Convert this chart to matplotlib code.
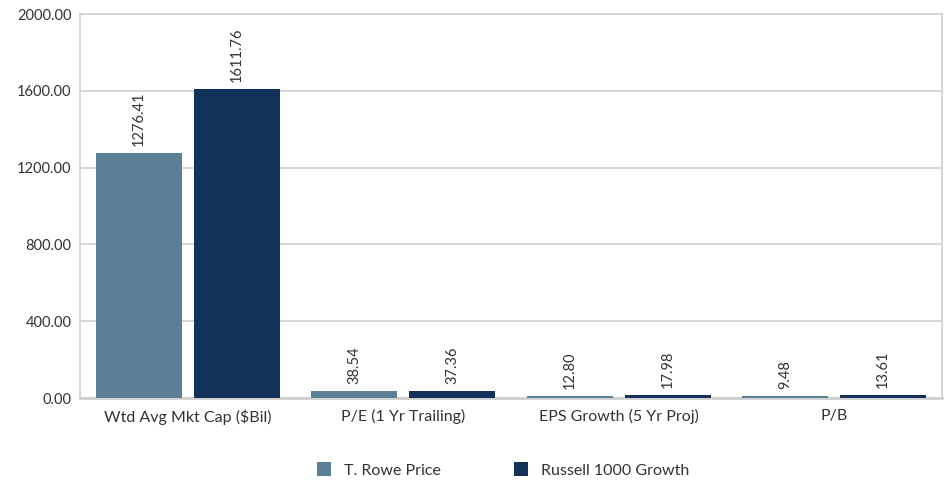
import numpy as np
import matplotlib.pyplot as plt

# --- Data --- #
categories = ['Wtd Avg Mkt Cap ($Bil)', 'P/E (1 Yr Trailing)', 'EPS Growth (5 Yr Proj)', 'P/B']
trowe = [1276.41, 38.54, 12.80, 9.48]
russell = [1611.76, 37.36, 17.98, 13.61]
series_names = ['T. Rowe Price', 'Russell 1000 Growth']
colors = ['#5B7F95', '#13325A']
yticks = [0, 400, 800, 1200, 1600, 2000]

plt.rcParams['font.family'] = ['Lato', 'DejaVu Sans']

fig = plt.figure(figsize=(9.49, 4.83), dpi=100)
ax = fig.add_axes([80 / 949, 1 - 398 / 483, (942 - 80) / 949, (398 - 14) / 483])

x = np.arange(len(categories))
w = 0.4
off = 0.227
b1 = ax.bar(x - off, trowe, w, color=colors[0], label=series_names[0], zorder=3)
b2 = ax.bar(x + off, russell, w, color=colors[1], label=series_names[1], zorder=3)

for bars in (b1, b2):
    for b in bars:
        ax.annotate(f'{b.get_height():.2f}', (b.get_x() + b.get_width() / 2, b.get_height()),
                    xytext=(0, 5), textcoords='offset points', rotation=90,
                    ha='center', va='bottom', fontsize=10.5, color='#333333')

ax.set_xlim(-0.5, 3.5)
ax.set_ylim(0, 2000)
ax.set_yticks(yticks)
ax.set_yticklabels([f'{v:.2f}' for v in yticks])
ax.set_xticks(x)
ax.set_xticklabels(categories)
ax.tick_params(axis='both', length=0, labelsize=10.5, colors='#333333')
ax.tick_params(axis='x', pad=8, labelsize=11.5)
ax.tick_params(axis='y', pad=6)
ax.grid(axis='y', color='#D0D0D0', linewidth=1.2, zorder=0)
for s in ax.spines.values():
    s.set_color('#D0D0D0')
    s.set_linewidth(1.2)
ax.spines['bottom'].set_linewidth(2)

fig.legend(loc='center', bbox_to_anchor=(503 / 949, 1 - 470 / 483), ncol=2, frameon=False,
           fontsize=11.5, handlelength=0.9, handleheight=0.9, handletextpad=0.8,
           columnspacing=4.6, labelcolor='#333333')

plt.savefig('out.png', dpi=100)
